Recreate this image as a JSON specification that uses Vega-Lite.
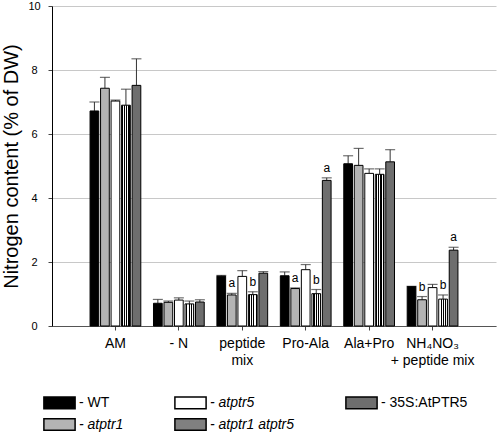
{
  "$schema": "https://vega.github.io/schema/vega-lite/v6.json",
  "autosize": "none",
  "width": 444,
  "height": 320,
  "padding": {"left": 52, "top": 6, "right": 2, "bottom": 108},
  "background": "white",
  "config": {
    "font": "Liberation Sans",
    "view": {"stroke": null},
    "axis": {"labelColor": "black", "titleColor": "black", "titleFontWeight": "normal"}
  },
  "data": {
    "values": [
      {"group": "AM", "genotype": "WT", "value": 6.72, "err": 7.0, "sig": ""},
      {"group": "AM", "genotype": "atptr1", "value": 7.43, "err": 7.77, "sig": ""},
      {"group": "AM", "genotype": "atptr5", "value": 7.03, "err": 7.06, "sig": ""},
      {"group": "AM", "genotype": "atptr1 atptr5", "value": 6.9, "err": 7.4, "sig": ""},
      {"group": "AM", "genotype": "35S:AtPTR5", "value": 7.52, "err": 8.35, "sig": ""},
      {"group": "- N", "genotype": "WT", "value": 0.71, "err": 0.83, "sig": ""},
      {"group": "- N", "genotype": "atptr1", "value": 0.74, "err": 0.78, "sig": ""},
      {"group": "- N", "genotype": "atptr5", "value": 0.81, "err": 0.88, "sig": ""},
      {"group": "- N", "genotype": "atptr1 atptr5", "value": 0.69, "err": 0.78, "sig": ""},
      {"group": "- N", "genotype": "35S:AtPTR5", "value": 0.75, "err": 0.82, "sig": ""},
      {"group": "peptide|mix", "genotype": "WT", "value": 1.56, "err": 1.58, "sig": ""},
      {"group": "peptide|mix", "genotype": "atptr1", "value": 0.97, "err": 1.02, "sig": "a"},
      {"group": "peptide|mix", "genotype": "atptr5", "value": 1.55, "err": 1.73, "sig": ""},
      {"group": "peptide|mix", "genotype": "atptr1 atptr5", "value": 0.98, "err": 1.07, "sig": "b"},
      {"group": "peptide|mix", "genotype": "35S:AtPTR5", "value": 1.65, "err": 1.7, "sig": ""},
      {"group": "Pro-Ala", "genotype": "WT", "value": 1.57, "err": 1.69, "sig": ""},
      {"group": "Pro-Ala", "genotype": "atptr1", "value": 1.17, "err": 1.19, "sig": "a"},
      {"group": "Pro-Ala", "genotype": "atptr5", "value": 1.76, "err": 1.92, "sig": ""},
      {"group": "Pro-Ala", "genotype": "atptr1 atptr5", "value": 1.01, "err": 1.14, "sig": "b"},
      {"group": "Pro-Ala", "genotype": "35S:AtPTR5", "value": 4.55, "err": 4.63, "sig": "a"},
      {"group": "Ala+Pro", "genotype": "WT", "value": 5.07, "err": 5.32, "sig": ""},
      {"group": "Ala+Pro", "genotype": "atptr1", "value": 5.02, "err": 5.55, "sig": ""},
      {"group": "Ala+Pro", "genotype": "atptr5", "value": 4.77, "err": 4.91, "sig": ""},
      {"group": "Ala+Pro", "genotype": "atptr1 atptr5", "value": 4.74, "err": 4.91, "sig": ""},
      {"group": "Ala+Pro", "genotype": "35S:AtPTR5", "value": 5.13, "err": 5.51, "sig": ""},
      {"group": "NH₄NO₃|+ peptide mix", "genotype": "WT", "value": 1.23, "err": 1.24, "sig": ""},
      {"group": "NH₄NO₃|+ peptide mix", "genotype": "atptr1", "value": 0.82, "err": 0.92, "sig": "b"},
      {"group": "NH₄NO₃|+ peptide mix", "genotype": "atptr5", "value": 1.2, "err": 1.3, "sig": ""},
      {"group": "NH₄NO₃|+ peptide mix", "genotype": "atptr1 atptr5", "value": 0.84, "err": 0.97, "sig": "b"},
      {"group": "NH₄NO₃|+ peptide mix", "genotype": "35S:AtPTR5", "value": 2.37, "err": 2.46, "sig": "a"}
    ]
  },
  "encoding": {
    "x": {
      "field": "group", "type": "nominal", "sort": null,
      "scale": {"paddingInner": 0.2, "paddingOuter": 0.6},
      "axis": {"title": null, "labelAngle": 0, "labelFontSize": 14, "labelLineHeight": 17, "labelPadding": 6, "tickSize": 4, "tickColor": "#444", "domainColor": "#555", "labelExpr": "split(datum.label, '|')", "labelBaseline": "top"}
    },
    "xOffset": {
      "field": "genotype", "type": "nominal",
      "sort": ["WT", "atptr1", "atptr5", "atptr1 atptr5", "35S:AtPTR5"],
      "scale": {"paddingInner": 0.17, "paddingOuter": 0}
    }
  },
  "layer": [
    {
      "mark": {"type": "rule", "color": "#333", "strokeWidth": 1},
      "encoding": {
        "y": {"field": "value", "type": "quantitative"},
        "y2": {"field": "err"}
      }
    },
    {
      "mark": {"type": "tick", "color": "#333", "thickness": 1.2, "size": 10, "orient": "horizontal"},
      "encoding": {
        "y": {"field": "err", "type": "quantitative"}
      }
    },
    {
      "mark": {"type": "bar", "stroke": "black", "strokeWidth": 1},
      "encoding": {
        "y": {
          "field": "value", "type": "quantitative",
          "scale": {"domain": [0, 10], "nice": false},
          "axis": {"values": [0, 2, 4, 6, 8, 10], "title": "Nitrogen content (% of DW)", "titleFontSize": 20, "titlePadding": 6, "labelFontSize": 11, "labelAlign": "center", "labelPadding": 14, "tickSize": 4, "tickColor": "#444", "domainColor": "black", "grid": true, "gridColor": "#c8c8c8", "gridWidth": 1}
        },
        "fill": {
          "condition": {
            "test": "datum.genotype === 'atptr1 atptr5'",
            "value": {"gradient": "linear", "x1": 0, "y1": 0, "x2": 1, "y2": 0, "stops": [
                {"offset": 0, "color": "#ffffff"}, {"offset": 0.1, "color": "#ffffff"},
                {"offset": 0.1, "color": "#000000"}, {"offset": 0.2, "color": "#000000"},
                {"offset": 0.2, "color": "#ffffff"}, {"offset": 0.3, "color": "#ffffff"},
                {"offset": 0.3, "color": "#000000"}, {"offset": 0.4, "color": "#000000"},
                {"offset": 0.4, "color": "#ffffff"}, {"offset": 0.5, "color": "#ffffff"},
                {"offset": 0.5, "color": "#000000"}, {"offset": 0.6, "color": "#000000"},
                {"offset": 0.6, "color": "#ffffff"}, {"offset": 0.7, "color": "#ffffff"},
                {"offset": 0.7, "color": "#000000"}, {"offset": 0.8, "color": "#000000"},
                {"offset": 0.8, "color": "#ffffff"}, {"offset": 0.9, "color": "#ffffff"},
                {"offset": 0.9, "color": "#000000"}, {"offset": 1, "color": "#000000"}
              ]}
          },
          "field": "genotype", "type": "nominal",
          "scale": {
            "domain": ["WT", "atptr1", "atptr5", "atptr1 atptr5", "35S:AtPTR5"],
            "range": ["#000000", "#b4b4b4", "#ffffff", "#808080", "#6e6e6e"]
          },
          "legend": {
            "orient": "none", "legendX": -9, "legendY": 389, "columns": 3, "columnPadding": 47, "rowPadding": 3,
            "title": null, "padding": 0,
            "symbolType": "M-2.4,-0.9H2.4V0.9H-2.4Z", "symbolSize": 169,
            "symbolStrokeWidth": 1.5, "symbolOffset": 9,
            "labelOffset": 12, "labelFontSize": 14, "labelColor": "black",
            "labelFontStyle": {"expr": "datum.value === 'WT' || datum.value === '35S:AtPTR5' ? 'normal' : 'italic'"},
            "labelExpr": "'- ' + datum.label",
            "encode": {
              "symbols": {"update": {
                "stroke": {"value": "black"},
                "strokeWidth": {"value": 1.5}
              }}
            }
          }
        }
      }
    },
    {
      "transform": [{"filter": "datum.sig !== ''"}],
      "mark": {"type": "text", "fontSize": 12, "baseline": "bottom", "dy": -3, "fill": "black"},
      "encoding": {
        "y": {"field": "err", "type": "quantitative"},
        "text": {"field": "sig"}
      }
    }
  ]
}
